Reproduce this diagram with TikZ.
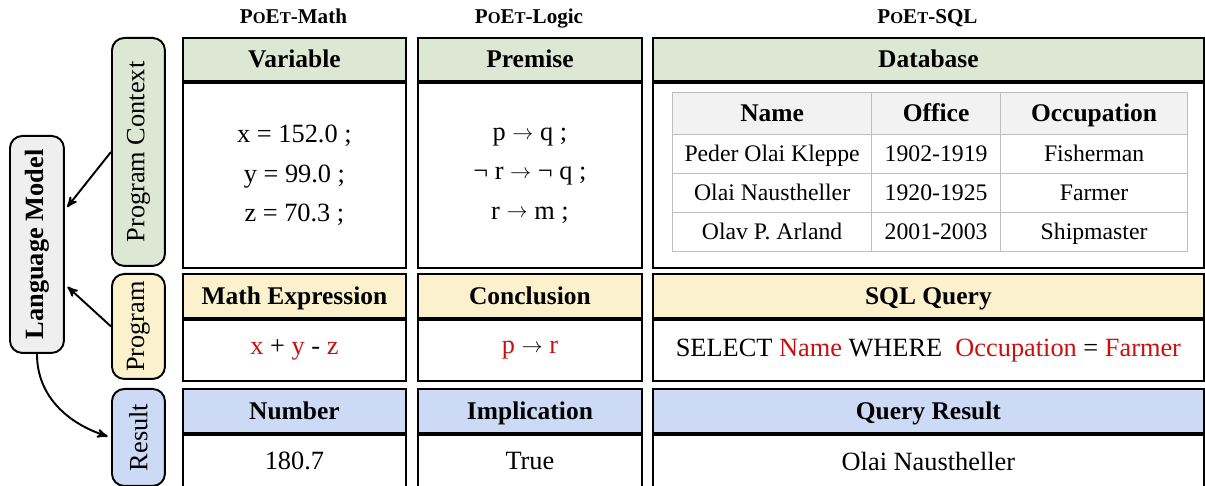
\documentclass[tikz,border=0pt]{standalone}
\usepackage{fontspec}
\setmainfont{Liberation Serif}
\usetikzlibrary{arrows}
\definecolor{ctxgreen}{RGB}{221, 232, 212}
\definecolor{progyellow}{RGB}{251, 241, 205}
\definecolor{resblue}{RGB}{205, 218, 245}
\definecolor{lmgray}{RGB}{239, 239, 239}
\definecolor{tabline}{RGB}{190, 190, 190}
\definecolor{tabhead}{RGB}{242, 242, 242}
\definecolor{hlred}{RGB}{200, 16, 16}

\newcommand{\smcap}[1]{{\fontsize{9.4}{12}\selectfont #1}}
\newcommand{\poet}{P\smcap{O}E\smcap{T}}
\newcommand{\hl}[1]{\textcolor{hlred}{#1}}
\newcommand{\imp}{{\fontsize{12}{12}\selectfont\raisebox{0.6pt}{$\rightarrow$}}}

\tikzset{
  coltitle/.style={anchor=base, font=\fontsize{12}{14}\selectfont\bfseries},
  hdr/.style={draw, line width=1.1pt, inner sep=0pt, text height=13pt, text depth=3.5pt,
              font=\fontsize{14.5}{16}\selectfont\bfseries},
  bdy/.style={draw, line width=1.1pt, inner sep=0pt, align=center, anchor=north,
              font=\fontsize{15}{22.4}\selectfont},
  side/.style={draw, line width=1.1pt, rounded corners=7pt, inner sep=0pt, anchor=north west,
               font=\fontsize{15}{18}\selectfont},
  cell/.style={draw=tabline, line width=0.7pt, inner sep=0pt, anchor=north west,
               minimum height=0.78cm, text height=12pt, text depth=3.1pt,
               font=\fontsize{13.5}{16}\selectfont},
  cellhd/.style={cell, fill=tabhead, minimum height=0.84cm, text height=13pt, text depth=3.5pt,
                 font=\fontsize{14.5}{16}\selectfont\bfseries},
  arr/.style={-stealth', line width=1.1pt, shorten >=2pt},
}

\begin{document}
\begin{tikzpicture}[x=0.02cm, y=-0.02cm]
    \useasboundingbox (0,0) rectangle (1205,486);

    % column titles
    \node[coltitle] (tmath)  at (293.5,24) {\poet-Math};
    \node[coltitle] (tlogic) at (529,24)   {\poet-Logic};
    \node[coltitle] (tsql)   at (927.5,24) {\poet-SQL};

    % left side: model and the three row labels
    \node[side, fill=lmgray, minimum width=1.08cm, minimum height=4.34cm] (lm) at (9,135)
        {\rotatebox{90}{\bfseries Language Model}};
    \node[side, fill=ctxgreen, minimum width=1.06cm, minimum height=4.56cm] (ctx) at (111,37)
        {\rotatebox{90}{Program Context}};
    \node[side, fill=progyellow, minimum width=1.06cm, minimum height=2.1cm] (prog) at (111,273)
        {\rotatebox{90}{Program}};
    \node[side, fill=resblue, minimum width=1.06cm, minimum height=1.94cm] (res) at (111,388)
        {\rotatebox{90}{Result}};

    \draw[arr] (ctx.west)  -- (lm.51);
    \draw[arr] (prog.west) -- (lm.-55);
    \draw[arr] (lm.south) to[out=-90, in=162] (res.west);

    % PoEt-Math
    \node[hdr, fill=ctxgreen, minimum width=4.46cm, minimum height=0.86cm, anchor=north west] (varhd) at (182,37) {Variable};
    \node[bdy, minimum width=4.46cm, minimum height=3.7cm] (varbd) at (varhd.south)
        {x = 152.0 ;\\ y = 99.0 ;\\ z = 70.3 ;};
    \node[hdr, fill=progyellow, minimum width=4.46cm, minimum height=0.88cm, anchor=north west] (exphd) at (182,273) {Math Expression};
    \node[bdy, minimum width=4.46cm, minimum height=1.22cm] (expbd) at (exphd.south)
        {\hl{x} + \hl{y} - \hl{z}};
    \node[hdr, fill=resblue, minimum width=4.46cm, minimum height=0.88cm, anchor=north west] (numhd) at (182,388) {Number};
    \node[bdy, minimum width=4.46cm, minimum height=1.06cm] (numbd) at (numhd.south) {180.7};

    % PoEt-Logic
    \node[hdr, fill=ctxgreen, minimum width=4.48cm, minimum height=0.86cm, anchor=north west] (premhd) at (417,37) {Premise};
    \node[bdy, minimum width=4.48cm, minimum height=3.7cm] (prembd) at (premhd.south)
        {p \imp{} q ;\\ ¬ r \imp{} ¬ q ;\\ r \imp{} m ;};
    \node[hdr, fill=progyellow, minimum width=4.48cm, minimum height=0.88cm, anchor=north west] (conchd) at (417,273) {Conclusion};
    \node[bdy, minimum width=4.48cm, minimum height=1.22cm] (concbd) at (conchd.south)
        {\hl{p} \imp{} \hl{r}};
    \node[hdr, fill=resblue, minimum width=4.48cm, minimum height=0.88cm, anchor=north west] (implhd) at (417,388) {Implication};
    \node[bdy, minimum width=4.48cm, minimum height=1.06cm] (implbd) at (implhd.south) {True};

    % PoEt-SQL
    \node[hdr, fill=ctxgreen, minimum width=11.02cm, minimum height=0.86cm, anchor=north west] (dbhd) at (652,37) {Database};
    \node[bdy, minimum width=11.02cm, minimum height=3.7cm] (dbbd) at (dbhd.south) {};
    \node[hdr, fill=progyellow, minimum width=11.02cm, minimum height=0.88cm, anchor=north west] (qryhd) at (652,273) {SQL Query};
    \node[bdy, minimum width=11.02cm, minimum height=1.22cm] (qrybd) at (qryhd.south)
        {SELECT \hl{Name} WHERE\ \ \hl{Occupation} = \hl{Farmer}};
    \node[hdr, fill=resblue, minimum width=11.02cm, minimum height=0.88cm, anchor=north west] (qreshd) at (652,388) {Query Result};
    \node[bdy, minimum width=11.02cm, minimum height=1.06cm] (qresbd) at (qreshd.south) {Olai Naustheller};

    % database table
    \node[cellhd, minimum width=3.98cm] (c11) at (672,92)  {Name};
    \node[cellhd, minimum width=2.58cm] (c12) at (871,92)  {Office};
    \node[cellhd, minimum width=3.74cm] (c13) at (1000,92) {Occupation};
    \node[cell, minimum width=3.98cm] (c21) at (672,134)  {Peder Olai Kleppe};
    \node[cell, minimum width=2.58cm] (c22) at (871,134)  {1902-1919};
    \node[cell, minimum width=3.74cm] (c23) at (1000,134) {Fisherman};
    \node[cell, minimum width=3.98cm] (c31) at (672,173)  {Olai Naustheller};
    \node[cell, minimum width=2.58cm] (c32) at (871,173)  {1920-1925};
    \node[cell, minimum width=3.74cm] (c33) at (1000,173) {Farmer};
    \node[cell, minimum width=3.98cm] (c41) at (672,212)  {Olav P. Arland};
    \node[cell, minimum width=2.58cm] (c42) at (871,212)  {2001-2003};
    \node[cell, minimum width=3.74cm] (c43) at (1000,212) {Shipmaster};
\end{tikzpicture}
\end{document}
